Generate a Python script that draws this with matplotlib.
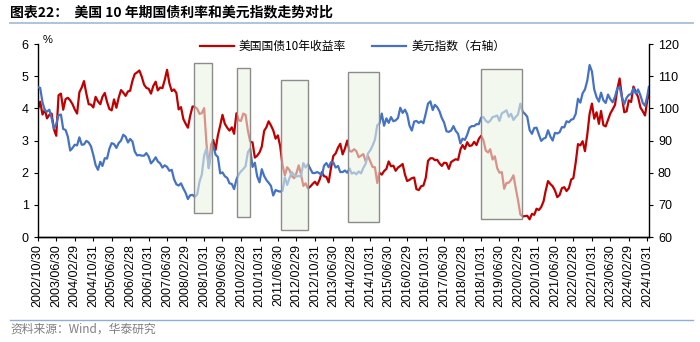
import numpy as np
import pandas as pd
import matplotlib
matplotlib.use("Agg")
import matplotlib.pyplot as plt
import matplotlib.dates as mdates
from matplotlib.patches import Rectangle
from matplotlib.lines import Line2D

plt.rcParams["font.family"] = ["Liberation Sans", "Noto Sans CJK SC", "DejaVu Sans"]

# %% Data (monthly)
dates = (
    [pd.Timestamp("2002-10-30")]
    + list(pd.date_range("2002-11-30", "2024-10-31", freq="ME"))
    + [pd.Timestamp("2024-11-20")]
)

# US 10Y treasury yield, %
ust10y = [
    # 2002 (10/30, 11, 12)
    3.95, 4.21, 3.81,
    # 2003
    3.96, 3.69, 3.80, 3.84, 3.35, 3.15, 4.41, 4.46, 3.96, 4.29, 4.33, 4.25,
    # 2004
    4.13, 3.97, 3.84, 4.50, 4.65, 4.85, 4.46, 4.13, 4.12, 4.03, 4.36, 4.22,
    # 2005
    4.13, 4.36, 4.48, 4.20, 3.98, 3.94, 4.28, 4.02, 4.33, 4.57, 4.49, 4.39,
    # 2006
    4.53, 4.55, 4.86, 5.07, 5.12, 5.18, 4.99, 4.74, 4.64, 4.61, 4.46, 4.70,
    # 2007
    4.83, 4.56, 4.65, 4.63, 4.89, 5.20, 4.78, 4.54, 4.59, 4.48, 3.97, 4.04,
    # 2008
    3.67, 3.53, 3.40, 3.77, 4.06, 4.05, 3.99, 3.83, 3.85, 4.01, 2.93, 2.15,
    # 2009
    2.87, 3.02, 2.71, 3.16, 3.47, 3.80, 3.52, 3.40, 3.31, 3.41, 3.21, 3.85,
    # 2010
    3.63, 3.61, 3.84, 3.80, 3.31, 2.97, 2.94, 2.47, 2.53, 2.63, 2.81, 3.30,
    # 2011
    3.42, 3.60, 3.47, 3.32, 3.06, 3.16, 2.82, 2.23, 1.92, 2.17, 2.08, 1.89,
    # 2012
    1.83, 1.98, 2.23, 1.95, 1.59, 1.67, 1.51, 1.57, 1.65, 1.72, 1.62, 1.78,
    # 2013
    2.02, 1.89, 1.87, 1.70, 2.16, 2.52, 2.60, 2.78, 2.90, 2.57, 2.75, 3.00,
    # 2014
    2.67, 2.66, 2.73, 2.67, 2.48, 2.53, 2.58, 2.35, 2.52, 2.35, 2.18, 2.17,
    # 2015
    1.68, 2.00, 1.94, 2.05, 2.12, 2.35, 2.20, 2.22, 2.06, 2.16, 2.21, 2.27,
    # 2016
    1.94, 1.74, 1.78, 1.83, 1.85, 1.49, 1.46, 1.58, 1.60, 1.84, 2.37, 2.45,
    # 2017
    2.45, 2.39, 2.40, 2.29, 2.21, 2.31, 2.30, 2.12, 2.33, 2.38, 2.42, 2.40,
    # 2018
    2.72, 2.86, 2.74, 2.95, 2.83, 2.85, 2.96, 2.86, 3.05, 3.15, 3.01, 2.69,
    # 2019
    2.63, 2.73, 2.41, 2.51, 2.14, 2.00, 2.02, 1.50, 1.68, 1.69, 1.78, 1.92,
    # 2020
    1.51, 1.15, 0.70, 0.64, 0.65, 0.66, 0.55, 0.72, 0.69, 0.88, 0.84, 0.93,
    # 2021
    1.11, 1.44, 1.74, 1.65, 1.58, 1.45, 1.24, 1.31, 1.52, 1.55, 1.43, 1.52,
    # 2022
    1.79, 1.83, 2.32, 2.89, 2.85, 2.98, 2.67, 3.19, 3.83, 4.15, 3.68, 3.88,
    # 2023
    3.52, 3.92, 3.48, 3.44, 3.64, 3.84, 3.97, 4.11, 4.59, 4.93, 4.37, 3.88,
    # 2024 (1-10, 11/20)
    3.91, 4.25, 4.20, 4.68, 4.51, 4.36, 4.03, 3.91, 3.78, 4.28, 4.41,
]

# US dollar index
dxy = [
    # 2002
    106.6, 106.4, 101.9,
    # 2003
    99.4, 99.0, 99.6, 97.0, 93.7, 95.1, 97.9, 98.1, 93.6, 93.3, 91.2, 86.9,
    # 2004
    87.7, 88.7, 88.5, 91.0, 88.7, 88.8, 89.9, 89.4, 88.2, 85.5, 82.4, 80.9,
    # 2005
    83.4, 82.1, 84.5, 84.4, 87.5, 89.2, 88.9, 87.7, 89.2, 90.0, 91.8, 91.2,
    # 2006
    89.4, 90.5, 89.7, 86.6, 85.4, 85.5, 85.3, 85.3, 86.1, 85.0, 82.9, 83.7,
    # 2007
    84.8, 83.5, 82.9, 81.6, 82.3, 81.8, 80.6, 80.9, 78.0, 76.4, 76.0, 76.7,
    # 2008
    75.1, 73.8, 71.8, 73.0, 73.1, 72.5, 73.2, 77.2, 79.4, 85.3, 87.5, 81.4,
    # 2009
    86.2, 88.4, 85.6, 84.9, 79.8, 80.1, 78.9, 78.4, 76.7, 76.5, 74.9, 77.9,
    # 2010
    79.5, 80.4, 81.1, 82.0, 86.4, 87.5, 81.8, 83.1, 78.9, 77.0, 81.1, 79.0,
    # 2011
    77.7, 76.9, 75.9, 72.9, 74.6, 74.3, 74.1, 74.4, 78.6, 76.2, 78.3, 80.2,
    # 2012
    79.2, 78.8, 79.0, 78.8, 83.0, 81.6, 82.7, 81.2, 79.9, 79.9, 80.2, 79.8,
    # 2013
    79.2, 82.2, 83.0, 81.7, 83.3, 83.2, 81.6, 82.1, 80.2, 80.2, 80.7, 80.0,
    # 2014
    81.3, 79.7, 80.1, 79.5, 80.4, 79.8, 81.5, 82.8, 86.0, 87.0, 88.4, 90.3,
    # 2015
    94.8, 95.3, 98.4, 94.6, 96.9, 95.5, 97.3, 96.0, 96.3, 97.0, 100.2, 98.6,
    # 2016
    99.6, 98.2, 94.6, 93.1, 95.9, 96.1, 95.5, 96.0, 95.4, 98.4, 101.5, 102.2,
    # 2017
    99.5, 101.1, 100.4, 99.1, 97.0, 95.6, 92.9, 92.7, 93.1, 94.5, 93.0, 92.1,
    # 2018
    89.1, 90.6, 90.2, 91.8, 94.0, 94.5, 94.5, 95.1, 95.1, 97.1, 97.3, 96.2,
    # 2019
    95.6, 96.2, 97.3, 97.5, 97.8, 96.1, 98.5, 98.9, 99.4, 97.4, 98.3, 96.4,
    # 2020
    97.4, 98.1, 101.5, 99.0, 98.3, 97.4, 93.3, 92.1, 93.9, 94.0, 91.9, 89.9,
    # 2021
    90.6, 90.9, 93.2, 91.3, 90.0, 92.4, 92.2, 92.6, 94.2, 94.1, 96.0, 95.7,
    # 2022
    96.5, 96.7, 98.3, 103.0, 101.8, 104.7, 105.9, 108.7, 113.5, 111.5, 105.9, 103.5,
    # 2023
    102.1, 104.9, 102.5, 101.7, 104.3, 102.9, 101.9, 103.6, 106.2, 106.7, 103.5, 101.3,
    # 2024 (1-10, 11/20)
    103.3, 104.2, 104.5, 106.2, 104.6, 105.9, 104.1, 101.7, 100.8, 104.0, 106.7,
]

# highlighted periods: start, end, low, high (left axis units)
box_start = ["2008-06-15", "2010-01-06", "2011-08-08", "2014-01-13", "2018-11-02"]
box_end = ["2009-02-13", "2010-06-22", "2012-07-26", "2015-02-26", "2020-04-18"]
box_low = [0.76, 0.62, 0.22, 0.46, 0.57]
box_high = [5.42, 5.26, 4.87, 5.12, 5.22]

red = "#C00000"
blue = "#4472C4"

# %% Plot
fig = plt.figure(figsize=(7, 3.42), dpi=100)
ax1 = fig.add_axes([0.054, 0.307, 0.873, 0.564])
ax2 = ax1.twinx()

ax1.plot(dates, ust10y, color=red, linewidth=1.6, label="美国国债10年收益率")
ax2.plot(dates, dxy, color=blue, linewidth=1.6, label="美元指数（右轴）")

for s, e, lo, hi in zip(box_start, box_end, box_low, box_high):
    x0 = mdates.date2num(pd.Timestamp(s))
    x1 = mdates.date2num(pd.Timestamp(e))
    rect = Rectangle(
        (x0, lo), x1 - x0, hi - lo,
        transform=ax1.transData,
        facecolor=(0.92, 0.955, 0.895, 0.6),
        edgecolor="#8C8C8C",
        linewidth=1.0,
        zorder=5,
    )
    ax2.add_patch(rect)

ax1.set_xlim(pd.Timestamp("2002-10-30"), pd.Timestamp("2024-11-20"))
ax1.set_ylim(0, 6)
ax2.set_ylim(60, 120)
ax1.set_yticks(np.arange(0, 7, 1))
ax2.set_yticks(np.arange(60, 121, 10))

tick_dates = list(pd.date_range("2002-10-31", periods=34, freq="8ME"))
tick_dates[0] = pd.Timestamp("2002-10-30")
ax1.set_xticks(tick_dates)
ax1.set_xticklabels([d.strftime("%Y/%m/%d") for d in tick_dates], rotation=90)

for ax in (ax1, ax2):
    ax.spines["top"].set_visible(False)
    for side in ("left", "right", "bottom"):
        ax.spines[side].set_color("black")
        ax.spines[side].set_linewidth(1.0)
    ax.tick_params(direction="out", length=3, width=0.8, labelsize=9, colors="black")
ax1.tick_params(axis="x", pad=2)
ax2.spines["left"].set_visible(False)
ax1.spines["right"].set_visible(False)

fig.text(47.5 / 700, 1 - 40 / 342, "%", fontsize=8, ha="center", va="center")

handles = [
    Line2D([], [], color=red, linewidth=1.6),
    Line2D([], [], color=blue, linewidth=1.6),
]
fig.legend(
    handles,
    ["美国国债10年收益率", "美元指数（右轴）"],
    loc="center left",
    bbox_to_anchor=(200 / 700, 1 - 46.7 / 342),
    ncol=2,
    frameon=False,
    prop={"family": ["Noto Sans CJK SC"], "size": 8.5},
    handlelength=2.9,
    handletextpad=0.4,
    columnspacing=2.2,
    borderpad=0,
    borderaxespad=0,
)

# title, rules and source
fig.text(10 / 700, 1 - 12 / 342, "图表22：  美国 10 年期国债利率和美元指数走势对比",
         fontsize=10, fontweight="bold", ha="left", va="center",
         family=["Noto Sans CJK SC"])
fig.add_artist(Line2D([10 / 700, 693 / 700], [1 - 23 / 342, 1 - 23 / 342],
                      color="#A9BEDA", linewidth=1.3))
fig.add_artist(Line2D([10 / 700, 693 / 700], [1 - 320 / 342, 1 - 320 / 342],
                      color="#8EAEDA", linewidth=1.0))
fig.text(10 / 700, 1 - 329.5 / 342, "资料来源：Wind，华泰研究",
         fontsize=8.5, color="#7F7F7F", ha="left", va="center",
         family=["Noto Sans CJK SC"])

fig.savefig("out.png", dpi=100)
